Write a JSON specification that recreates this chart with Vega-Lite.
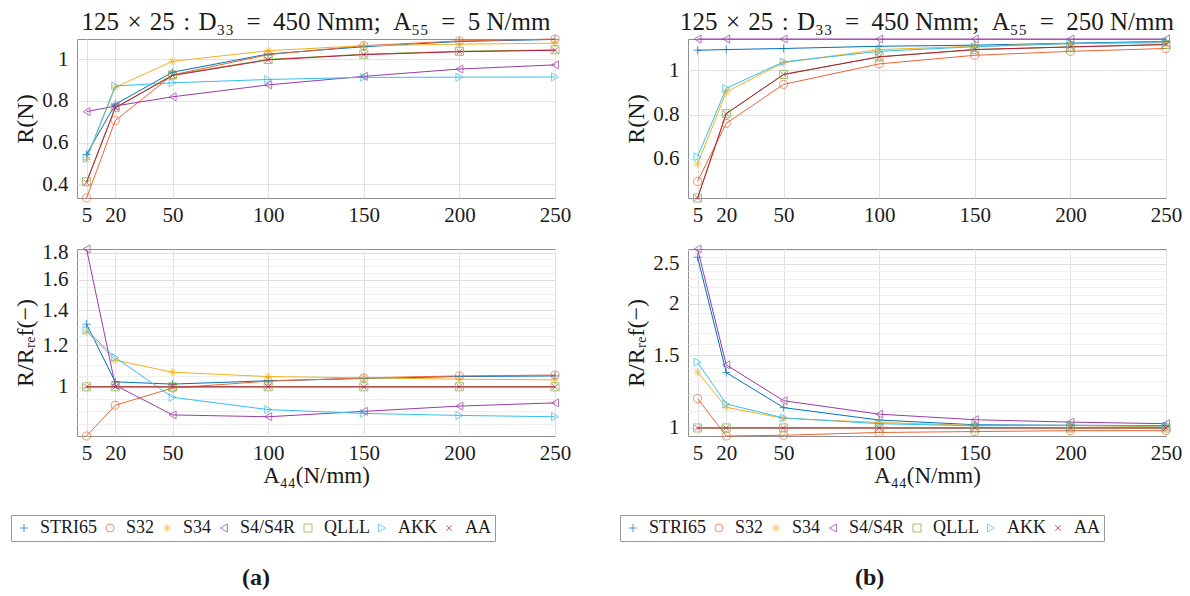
{
  "$schema": "https://vega.github.io/schema/vega-lite/v6.json",
  "usermeta": {"embedOptions": {"actions": false}},
  "background": "white",
  "padding": {"left": 10, "top": 9, "right": 5, "bottom": 5},
  "datasets": {
    "a": [
      {"series": "STRI65", "A44": 5, "R": 0.544, "ratio": 1.316},
      {"series": "STRI65", "A44": 20, "R": 0.784, "ratio": 1.022},
      {"series": "STRI65", "A44": 50, "R": 0.938, "ratio": 1.012},
      {"series": "STRI65", "A44": 100, "R": 1.025, "ratio": 1.027},
      {"series": "STRI65", "A44": 150, "R": 1.06, "ratio": 1.037},
      {"series": "STRI65", "A44": 200, "R": 1.085, "ratio": 1.046},
      {"series": "STRI65", "A44": 250, "R": 1.095, "ratio": 1.049},
      {"series": "S32", "A44": 5, "R": 0.335, "ratio": 0.806},
      {"series": "S32", "A44": 20, "R": 0.706, "ratio": 0.922},
      {"series": "S32", "A44": 50, "R": 0.925, "ratio": 0.995},
      {"series": "S32", "A44": 100, "R": 1.022, "ratio": 1.025},
      {"series": "S32", "A44": 150, "R": 1.065, "ratio": 1.04},
      {"series": "S32", "A44": 200, "R": 1.088, "ratio": 1.049},
      {"series": "S32", "A44": 250, "R": 1.097, "ratio": 1.053},
      {"series": "S34", "A44": 5, "R": 0.52, "ratio": 1.273},
      {"series": "S34", "A44": 20, "R": 0.866, "ratio": 1.124},
      {"series": "S34", "A44": 50, "R": 0.99, "ratio": 1.066},
      {"series": "S34", "A44": 100, "R": 1.041, "ratio": 1.046},
      {"series": "S34", "A44": 150, "R": 1.065, "ratio": 1.04},
      {"series": "S34", "A44": 200, "R": 1.072, "ratio": 1.034},
      {"series": "S34", "A44": 250, "R": 1.077, "ratio": 1.031},
      {"series": "S4/S4R", "A44": 5, "R": 0.749, "ratio": 1.83},
      {"series": "S4/S4R", "A44": 20, "R": 0.776, "ratio": 1.007},
      {"series": "S4/S4R", "A44": 50, "R": 0.82, "ratio": 0.884},
      {"series": "S4/S4R", "A44": 100, "R": 0.877, "ratio": 0.877},
      {"series": "S4/S4R", "A44": 150, "R": 0.918, "ratio": 0.898},
      {"series": "S4/S4R", "A44": 200, "R": 0.953, "ratio": 0.919},
      {"series": "S4/S4R", "A44": 250, "R": 0.973, "ratio": 0.932},
      {"series": "QLLL", "A44": 5, "R": 0.413, "ratio": 1},
      {"series": "QLLL", "A44": 20, "R": 0.768, "ratio": 1},
      {"series": "QLLL", "A44": 50, "R": 0.925, "ratio": 1},
      {"series": "QLLL", "A44": 100, "R": 0.999, "ratio": 1},
      {"series": "QLLL", "A44": 150, "R": 1.024, "ratio": 1},
      {"series": "QLLL", "A44": 200, "R": 1.038, "ratio": 1},
      {"series": "QLLL", "A44": 250, "R": 1.045, "ratio": 1},
      {"series": "AKK", "A44": 5, "R": 0.525, "ratio": 1.282},
      {"series": "AKK", "A44": 20, "R": 0.872, "ratio": 1.137},
      {"series": "AKK", "A44": 50, "R": 0.887, "ratio": 0.955},
      {"series": "AKK", "A44": 100, "R": 0.903, "ratio": 0.905},
      {"series": "AKK", "A44": 150, "R": 0.913, "ratio": 0.89},
      {"series": "AKK", "A44": 200, "R": 0.914, "ratio": 0.882},
      {"series": "AKK", "A44": 250, "R": 0.915, "ratio": 0.877},
      {"series": "AA", "A44": 5, "R": 0.41, "ratio": 1},
      {"series": "AA", "A44": 20, "R": 0.767, "ratio": 1},
      {"series": "AA", "A44": 50, "R": 0.922, "ratio": 1},
      {"series": "AA", "A44": 100, "R": 0.997, "ratio": 1},
      {"series": "AA", "A44": 150, "R": 1.022, "ratio": 1},
      {"series": "AA", "A44": 200, "R": 1.036, "ratio": 1},
      {"series": "AA", "A44": 250, "R": 1.043, "ratio": 1}
    ],
    "b": [
      {"series": "STRI65", "A44": 5, "R": 1.092, "ratio": 2.594},
      {"series": "STRI65", "A44": 20, "R": 1.095, "ratio": 1.362},
      {"series": "STRI65", "A44": 50, "R": 1.1, "ratio": 1.12},
      {"series": "STRI65", "A44": 100, "R": 1.11, "ratio": 1.045},
      {"series": "STRI65", "A44": 150, "R": 1.115, "ratio": 1.018},
      {"series": "STRI65", "A44": 200, "R": 1.124, "ratio": 1.015},
      {"series": "STRI65", "A44": 250, "R": 1.132, "ratio": 1.013},
      {"series": "S32", "A44": 5, "R": 0.496, "ratio": 1.178},
      {"series": "S32", "A44": 20, "R": 0.76, "ratio": 0.956},
      {"series": "S32", "A44": 50, "R": 0.937, "ratio": 0.96},
      {"series": "S32", "A44": 100, "R": 1.03, "ratio": 0.975},
      {"series": "S32", "A44": 150, "R": 1.069, "ratio": 0.98},
      {"series": "S32", "A44": 200, "R": 1.087, "ratio": 0.985},
      {"series": "S32", "A44": 250, "R": 1.1, "ratio": 0.985},
      {"series": "S34", "A44": 5, "R": 0.575, "ratio": 1.366},
      {"series": "S34", "A44": 20, "R": 0.902, "ratio": 1.122},
      {"series": "S34", "A44": 50, "R": 1.036, "ratio": 1.055},
      {"series": "S34", "A44": 100, "R": 1.095, "ratio": 1.031},
      {"series": "S34", "A44": 150, "R": 1.11, "ratio": 1.014},
      {"series": "S34", "A44": 200, "R": 1.122, "ratio": 1.014},
      {"series": "S34", "A44": 250, "R": 1.125, "ratio": 1.006},
      {"series": "S4/S4R", "A44": 5, "R": 1.143, "ratio": 2.715},
      {"series": "S4/S4R", "A44": 20, "R": 1.143, "ratio": 1.422},
      {"series": "S4/S4R", "A44": 50, "R": 1.143, "ratio": 1.164},
      {"series": "S4/S4R", "A44": 100, "R": 1.143, "ratio": 1.08},
      {"series": "S4/S4R", "A44": 150, "R": 1.143, "ratio": 1.047},
      {"series": "S4/S4R", "A44": 200, "R": 1.143, "ratio": 1.033},
      {"series": "S4/S4R", "A44": 250, "R": 1.143, "ratio": 1.024},
      {"series": "QLLL", "A44": 5, "R": 0.421, "ratio": 1},
      {"series": "QLLL", "A44": 20, "R": 0.804, "ratio": 1},
      {"series": "QLLL", "A44": 50, "R": 0.982, "ratio": 1},
      {"series": "QLLL", "A44": 100, "R": 1.062, "ratio": 1},
      {"series": "QLLL", "A44": 150, "R": 1.095, "ratio": 1},
      {"series": "QLLL", "A44": 200, "R": 1.107, "ratio": 1},
      {"series": "QLLL", "A44": 250, "R": 1.118, "ratio": 1},
      {"series": "AKK", "A44": 5, "R": 0.608, "ratio": 1.444},
      {"series": "AKK", "A44": 20, "R": 0.919, "ratio": 1.143},
      {"series": "AKK", "A44": 50, "R": 1.039, "ratio": 1.058},
      {"series": "AKK", "A44": 100, "R": 1.087, "ratio": 1.024},
      {"series": "AKK", "A44": 150, "R": 1.108, "ratio": 1.012},
      {"series": "AKK", "A44": 200, "R": 1.122, "ratio": 1.014},
      {"series": "AKK", "A44": 250, "R": 1.13, "ratio": 1.011},
      {"series": "AA", "A44": 5, "R": 0.421, "ratio": 1},
      {"series": "AA", "A44": 20, "R": 0.804, "ratio": 1},
      {"series": "AA", "A44": 50, "R": 0.982, "ratio": 1},
      {"series": "AA", "A44": 100, "R": 1.062, "ratio": 1},
      {"series": "AA", "A44": 150, "R": 1.095, "ratio": 1},
      {"series": "AA", "A44": 200, "R": 1.107, "ratio": 1},
      {"series": "AA", "A44": 250, "R": 1.118, "ratio": 1}
    ]
  },
  "config": {
    "font": "Liberation Serif",
    "view": {"stroke": "#8f8f8f", "strokeWidth": 1},
    "axis": {
      "domain": false, "ticks": false, "grid": true, "gridColor": "#e2e2e2", "gridWidth": 1,
      "labelFont": "Liberation Serif", "labelFontSize": 21, "labelColor": "#1a1a1a",
      "titleFont": "Liberation Serif", "titleFontSize": 24, "titleFontWeight": "normal", "titleColor": "#1a1a1a",
      "labelFlush": false, "labelOverlap": false, "labelPadding": 9
    },
    "axisX": {"labelPadding": 6, "titlePadding": 1, "titleFontSize": 23},
    "axisY": {"titlePadding": 4},
    "title": {"font": "Liberation Serif", "fontSize": 25, "fontWeight": "normal", "color": "#1a1a1a", "offset": -2},
    "legend": {
      "orient": "none", "direction": "horizontal",
      "labelFont": "Liberation Serif", "labelFontSize": 18, "labelColor": "#1a1a1a",
      "symbolSize": 64, "symbolStrokeWidth": 1, "labelOffset": 7, "columnPadding": 3,
      "strokeColor": "#999999", "fillColor": "white", "padding": 4
    }
  },
  "hconcat": [
    {
      "vconcat": [
        {
          "width": 478, "height": 159,
          "data": {"name": "a"},
          "title": {"text": "125\u2004×\u200425\u2004:\u2004D₃₃\u2002=\u2002450 Nmm;\u2002A₅₅\u2002=\u20025 N/mm"},
          "encoding": {
            "x": {"field": "A44", "type": "quantitative", "scale": {"domain": [0, 250], "nice": false}, "axis": {"values": [5, 20, 50, 100, 150, 200, 250], "title": null}},
            "y": {"field": "R", "type": "quantitative", "scale": {"domain": [0.335, 1.097], "zero": false, "nice": false}, "axis": {"values": [0.4, 0.6, 0.8, 1], "format": "~g", "title": "R(N)"}},
            "color": {"field": "series", "type": "nominal",
              "scale": {"domain": ["STRI65", "S32", "S34", "S4/S4R", "QLLL", "AKK", "AA"], "range": ["#0072BD", "#EE6433", "#F2B21F", "#9A3BA6", "#77AC30", "#35BFEE", "#C0183E"]},
              "legend": {"title": null, "legendX": -66, "legendY": 476}
            }
          },
          "layer": [
            {"mark": {"type": "line", "strokeWidth": 1}},
            {"mark": {"type": "point", "filled": false, "strokeWidth": 1, "size": 65},
             "encoding": {"shape": {"field": "series", "type": "nominal", "legend": null,
               "scale": {"domain": ["STRI65", "S32", "S34", "S4/S4R", "QLLL", "AKK", "AA"], "range": ["M-1,0H1M0,-1V1", "circle", "M-1,0H1M0,-1V1M-0.7,-0.7L0.7,0.7M-0.7,0.7L0.7,-0.7", "triangle-left", "square", "triangle-right", "M-0.7,-0.7L0.7,0.7M-0.7,0.7L0.7,-0.7"]}}}}
          ]
        },
        {
          "width": 478, "height": 187,
          "data": {"name": "a"},
          "encoding": {
            "x": {"field": "A44", "type": "quantitative", "scale": {"domain": [0, 250], "nice": false}, "axis": {"values": [5, 20, 50, 100, 150, 200, 250], "title": "A₄₄(N/mm)"}},
            "y": {"field": "ratio", "type": "quantitative", "scale": {"type": "log", "domain": [0.806, 1.83], "nice": false},
              "axis": {"values": [0.85, 0.9, 0.95, 1, 1.05, 1.1, 1.15, 1.2, 1.25, 1.3, 1.35, 1.4, 1.45, 1.5, 1.55, 1.6, 1.65, 1.7, 1.75, 1.8], "format": "~g",
                "labelExpr": "indexof([1, 1.2, 1.4, 1.6, 1.8], datum.value) >= 0 ? datum.label : ''",
                "gridColor": {"condition": {"test": "indexof([1, 1.2, 1.4, 1.6, 1.8], datum.value) >= 0", "value": "#dedede"}, "value": "#efefef"},
                "title": "R/Rᵣₑf(−)"}},
            "color": {"field": "series", "type": "nominal",
              "scale": {"domain": ["STRI65", "S32", "S34", "S4/S4R", "QLLL", "AKK", "AA"], "range": ["#0072BD", "#EE6433", "#F2B21F", "#9A3BA6", "#77AC30", "#35BFEE", "#C0183E"]},
              "legend": {"title": null, "legendX": -66, "legendY": 476}
            }
          },
          "layer": [
            {"mark": {"type": "line", "strokeWidth": 1}},
            {"mark": {"type": "point", "filled": false, "strokeWidth": 1, "size": 65},
             "encoding": {"shape": {"field": "series", "type": "nominal", "legend": null,
               "scale": {"domain": ["STRI65", "S32", "S34", "S4/S4R", "QLLL", "AKK", "AA"], "range": ["M-1,0H1M0,-1V1", "circle", "M-1,0H1M0,-1V1M-0.7,-0.7L0.7,0.7M-0.7,0.7L0.7,-0.7", "triangle-left", "square", "triangle-right", "M-0.7,-0.7L0.7,0.7M-0.7,0.7L0.7,-0.7"]}}}}
          ]
        }
      ],
      "spacing": 51,
      "bounds": "flush",
      "title": {"text": "(a)", "orient": "bottom", "anchor": "start", "frame": "group", "dx": 165, "offset": 24, "fontWeight": "bold", "fontSize": 24}
    },
    {
      "vconcat": [
        {
          "width": 478, "height": 159,
          "data": {"name": "b"},
          "title": {"text": "125\u2004×\u200425\u2004:\u2004D₃₃\u2002=\u2002450 Nmm;\u2002A₅₅\u2002=\u2002250 N/mm"},
          "encoding": {
            "x": {"field": "A44", "type": "quantitative", "scale": {"domain": [0, 250], "nice": false}, "axis": {"values": [5, 20, 50, 100, 150, 200, 250], "title": null}},
            "y": {"field": "R", "type": "quantitative", "scale": {"domain": [0.421, 1.143], "zero": false, "nice": false}, "axis": {"values": [0.6, 0.8, 1], "format": "~g", "title": "R(N)"}},
            "color": {"field": "series", "type": "nominal",
              "scale": {"domain": ["STRI65", "S32", "S34", "S4/S4R", "QLLL", "AKK", "AA"], "range": ["#0072BD", "#EE6433", "#F2B21F", "#9A3BA6", "#77AC30", "#35BFEE", "#C0183E"]},
              "legend": {"title": null, "legendX": -68, "legendY": 476}
            }
          },
          "layer": [
            {"mark": {"type": "line", "strokeWidth": 1}},
            {"mark": {"type": "point", "filled": false, "strokeWidth": 1, "size": 65},
             "encoding": {"shape": {"field": "series", "type": "nominal", "legend": null,
               "scale": {"domain": ["STRI65", "S32", "S34", "S4/S4R", "QLLL", "AKK", "AA"], "range": ["M-1,0H1M0,-1V1", "circle", "M-1,0H1M0,-1V1M-0.7,-0.7L0.7,0.7M-0.7,0.7L0.7,-0.7", "triangle-left", "square", "triangle-right", "M-0.7,-0.7L0.7,0.7M-0.7,0.7L0.7,-0.7"]}}}}
          ]
        },
        {
          "width": 478, "height": 187,
          "data": {"name": "b"},
          "encoding": {
            "x": {"field": "A44", "type": "quantitative", "scale": {"domain": [0, 250], "nice": false}, "axis": {"values": [5, 20, 50, 100, 150, 200, 250], "title": "A₄₄(N/mm)"}},
            "y": {"field": "ratio", "type": "quantitative", "scale": {"type": "log", "domain": [0.956, 2.715], "nice": false},
              "axis": {"values": [1, 1.1, 1.2, 1.3, 1.4, 1.5, 1.6, 1.7, 1.8, 1.9, 2, 2.1, 2.2, 2.3, 2.4, 2.5, 2.6, 2.7], "format": "~g",
                "labelExpr": "indexof([1, 1.5, 2, 2.5], datum.value) >= 0 ? datum.label : ''",
                "gridColor": {"condition": {"test": "indexof([1, 1.5, 2, 2.5], datum.value) >= 0", "value": "#dedede"}, "value": "#efefef"},
                "title": "R/Rᵣₑf(−)"}},
            "color": {"field": "series", "type": "nominal",
              "scale": {"domain": ["STRI65", "S32", "S34", "S4/S4R", "QLLL", "AKK", "AA"], "range": ["#0072BD", "#EE6433", "#F2B21F", "#9A3BA6", "#77AC30", "#35BFEE", "#C0183E"]},
              "legend": {"title": null, "legendX": -68, "legendY": 476}
            }
          },
          "layer": [
            {"mark": {"type": "line", "strokeWidth": 1}},
            {"mark": {"type": "point", "filled": false, "strokeWidth": 1, "size": 65},
             "encoding": {"shape": {"field": "series", "type": "nominal", "legend": null,
               "scale": {"domain": ["STRI65", "S32", "S34", "S4/S4R", "QLLL", "AKK", "AA"], "range": ["M-1,0H1M0,-1V1", "circle", "M-1,0H1M0,-1V1M-0.7,-0.7L0.7,0.7M-0.7,0.7L0.7,-0.7", "triangle-left", "square", "triangle-right", "M-0.7,-0.7L0.7,0.7M-0.7,0.7L0.7,-0.7"]}}}}
          ]
        }
      ],
      "spacing": 51,
      "bounds": "flush",
      "title": {"text": "(b)", "orient": "bottom", "anchor": "start", "frame": "group", "dx": 167, "offset": 24, "fontWeight": "bold", "fontSize": 24}
    }
  ],
  "spacing": 47,
  "resolve": {"scale": {"color": "independent", "shape": "independent"}, "legend": {"color": "independent", "shape": "independent"}}
}
